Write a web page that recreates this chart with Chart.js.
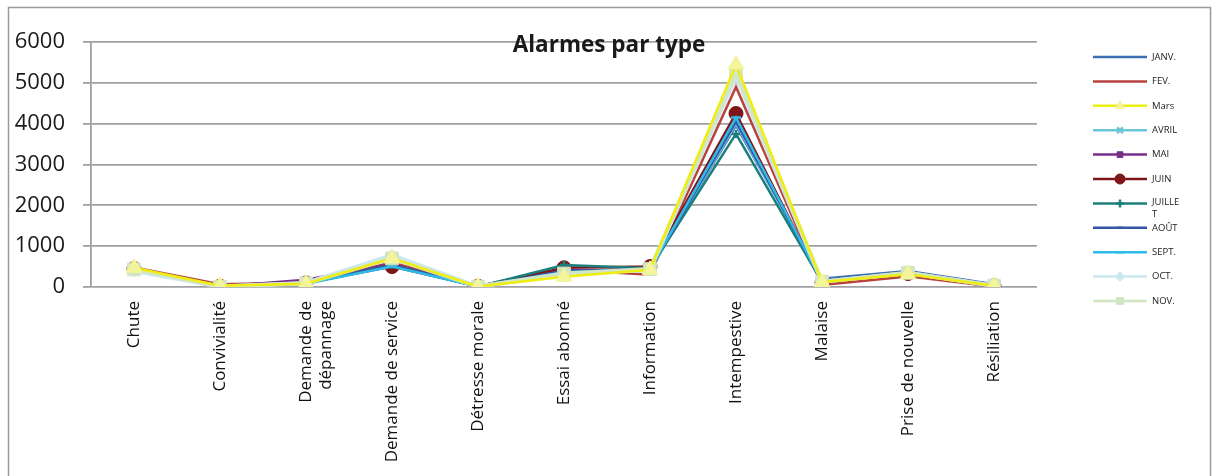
<!DOCTYPE html>
<html>
<head>
<meta charset="utf-8">
<script src="https://cdn.jsdelivr.net/npm/chart.js@4"></script>
<style>
  html, body { margin: 0; padding: 0; background: #fff; }
  canvas { display: block; }
</style>
</head>
<body>
<canvas id="graph" width="1215" height="476"></canvas>
<script>
const categories = ['Chute', 'Convivialité', ['Demande de', 'dépannage'], 'Demande de service', 'Détresse morale',
  'Essai abonné', 'Information', 'Intempestive', 'Malaise', 'Prise de nouvelle', 'Résiliation']

const months = ['JANV.', 'FEV.', 'Mars', 'AVRIL', 'MAI', 'JUIN', 'JUILLET', 'AOÛT', 'SEPT.', 'OCT.', 'NOV.']

const janv    = [430, 20,  90, 560, 10, 380, 420, 3950, 200, 390, 70]
const fev     = [480, 70, 110, 600, 20, 420, 300, 4900,  50, 260, 10]
const mars    = [470, 30,  80, 700, 10, 250, 420, 5450, 120, 310, 30]
const avril   = [400, 10,  90, 520, 10, 350, 400, 4000, 120, 340, 40]
const mai     = [420, 10, 180, 560, 10, 400, 450, 4100, 130, 350, 40]
const juin    = [450, 20, 100, 500, 20, 470, 500, 4250, 110, 330, 30]
const juillet = [410, 10,  90, 540, 10, 540, 460, 3750, 120, 340, 40]
const aout    = [420, 10,  90, 520, 10, 400, 430, 4050, 150, 370, 50]
const sept    = [400, 10,  80, 500, 10, 360, 430, 4150, 130, 350, 40]
const oct     = [390, 10, 100, 780, 10, 300, 420, 5150, 130, 340, 30]
const nov     = [430, 10,  90, 700, 10, 330, 440, 5250, 130, 350, 30]

const yTicks = [0, 1000, 2000, 3000, 4000, 5000, 6000]

const series = [janv, fev, mars, avril, mai, juin, juillet, aout, sept, oct, nov]

// styles per month
const colors = ['#3F6FB0', '#B9413E', '#EEEE10', '#6CC6DA', '#7A2E8E', '#7E1518', '#1B7F7B', '#3556A6', '#2EBBEA', '#CDE7F1', '#D3E6C3']
const fills  = ['#3F6FB0', '#B9413E', '#F4F49A', '#6CC6DA', '#7A2E8E', '#7E1518', '#1B7F7B', '#3556A6', '#2EBBEA', '#CDE7F1', '#D3E6C3']
const styles = [false, false, 'triangle', 'crossRot', 'rect', 'circle', 'cross', 'line', 'line', 'rectRot', 'rect']
const radii  = [0, 0, 9, 4, 4, 7, 4, 3, 5, 6, 9]
const widths = [2.5, 2.5, 2.5, 2.5, 2.5, 2.5, 2.5, 2.5, 2.5, 4, 4]
const orders = [10, 9, 0, 8, 7, 6, 5, 4, 3, 2, 1]

const datasets = series.map((d, i) => ({
  label: months[i],
  data: d,
  borderColor: colors[i],
  backgroundColor: fills[i],
  pointBackgroundColor: fills[i],
  pointBorderColor: i === 2 ? fills[i] : colors[i],
  borderWidth: widths[i],
  pointStyle: styles[i],
  pointRadius: radii[i],
  pointBorderWidth: styles[i] === 'line' || styles[i] === 'cross' || styles[i] === 'crossRot' ? 2.5 : 1,
  tension: 0,
  order: orders[i]
}))

const frame = {
  id: 'frame',
  beforeDraw(chart) {
    const ctx = chart.ctx
    ctx.save()
    ctx.strokeStyle = '#9a9a9a'
    ctx.lineWidth = 1.5
    ctx.strokeRect(8.5, 7.5, 1202, 490)
    ctx.restore()
  },
  afterDraw(chart) {
    const ctx = chart.ctx
    ctx.save()
    // title
    ctx.fillStyle = '#1a1a1a'
    ctx.font = 'bold 22.5px "Open Sans"'
    ctx.textAlign = 'center'
    ctx.textBaseline = 'middle'
    ctx.fillText('Alarmes par type', 609, 46)
    // legend
    ctx.font = '9.5px "Open Sans"'
    ctx.textAlign = 'left'
    chart.data.datasets.forEach((ds, i) => {
      const y = 57 + i * 24.4
      ctx.strokeStyle = ds.borderColor
      ctx.lineWidth = 2.5
      ctx.beginPath()
      ctx.moveTo(1093, y)
      ctx.lineTo(1147, y)
      ctx.stroke()
      if (ds.pointStyle) {
        ctx.fillStyle = ds.pointBackgroundColor
        ctx.strokeStyle = ds.pointBorderColor
        ctx.lineWidth = ds.pointBorderWidth
        Chart.helpers.drawPoint(ctx, { pointStyle: ds.pointStyle, radius: Math.min(ds.pointRadius, 5), rotation: 0, borderWidth: ds.pointBorderWidth }, 1120, y)
      }
      ctx.fillStyle = '#222'
      if (ds.label === 'JUILLET') {
        ctx.fillText('JUILLE', 1152, y - 1)
        ctx.fillText('T', 1152, y + 11)
      } else {
        ctx.fillText(ds.label, 1152, y)
      }
    })
    ctx.restore()
  }
}

new Chart(document.getElementById('graph'), {
  type: 'line',
  data: { labels: categories, datasets },
  plugins: [frame],
  options: {
    responsive: false,
    animation: false,
    devicePixelRatio: 1,
    layout: { padding: { left: 8, top: 42, right: 178, bottom: 0 } },
    plugins: { legend: { display: false }, title: { display: false }, tooltip: { enabled: false } },
    scales: {
      x: {
        offset: true,
        grid: { display: false, drawTicks: false },
        border: { display: false },
        ticks: {
          autoSkip: false,
          minRotation: 90,
          maxRotation: 90,
          padding: 14,
          color: '#111',
          font: { family: 'Open Sans', size: 17 }
        },
        afterFit(scale) { scale.height = 189 }
      },
      y: {
        min: 0,
        max: 6000,
        afterBuildTicks(scale) { scale.ticks = yTicks.map(v => ({ value: v })) },
        grid: { color: '#a0a0a3', lineWidth: 1.8, tickLength: 8 },
        border: { display: true, color: '#a0a0a3', width: 1.8 },
        ticks: {
          padding: 18,
          color: '#1a1a1a',
          font: { family: 'Open Sans', size: 22 },
          callback: v => String(v)
        },
        afterFit(scale) { scale.width = 83 }
      }
    }
  }
})
</script>
</body>
</html>
